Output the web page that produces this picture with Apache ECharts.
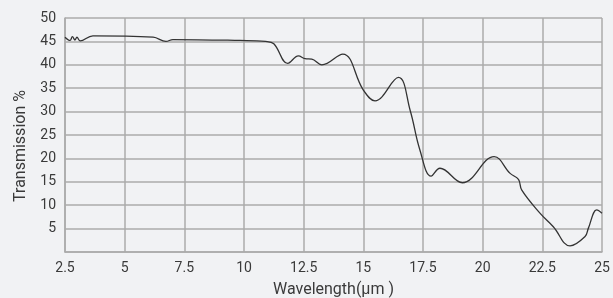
<!DOCTYPE html>
<html>
<head>
<meta charset="utf-8">
<script src="https://cdn.jsdelivr.net/npm/echarts@6/dist/echarts.min.js"></script>
<style>
  html, body { margin: 0; padding: 0; background: #f1f2f4; }
  #chart { width: 613px; height: 298px; }
</style>
</head>
<body>
<div id="chart"></div>
<script>
// wavelength (um) and transmission (%)
const wavelength = [2.5, 2.71, 2.81, 2.92, 3.0, 3.13, 3.67, 6.19, 6.73, 7.02, 9.83, 10.9, 11.25, 11.83, 12.28, 12.56, 12.84, 13.26, 14.14, 15.0, 15.49, 16.47, 16.96, 17.37, 17.84, 18.21, 19.15, 20.48, 21.15, 21.5, 21.64, 22.4, 22.96, 23.66, 24.29, 24.43, 24.78, 25.0]
const transmission = [45.9, 45.2, 46.0, 45.3, 45.9, 45.1, 46.2, 45.9, 45.0, 45.4, 45.2, 45.0, 44.5, 40.3, 41.9, 41.3, 41.2, 40.0, 42.3, 34.6, 32.3, 37.3, 30.3, 21.8, 16.2, 17.9, 14.8, 20.4, 16.8, 15.5, 13.2, 8.3, 5.4, 1.3, 3.3, 5.1, 9.0, 8.3]

const chart = echarts.init(document.getElementById('chart'))

const gridColor = '#ababab'
const textColor = '#3a3a3a'
const font = 'Roboto'

chart.setOption({
  backgroundColor: '#f1f2f4',
  animation: false,
  grid: { left: 65, right: 11, top: 18, bottom: 46, outerBoundsMode: 'none', containLabel: false },
  xAxis: {
    type: 'value',
    min: 2.5,
    max: 25,
    interval: 2.5,
    name: 'Wavelength(μm )',
    nameLocation: 'middle',
    nameGap: 30,
    nameTextStyle: { fontSize: 16, color: textColor, fontFamily: font },
    axisLine: { show: true, lineStyle: { color: gridColor, width: 1.5 } },
    axisTick: { show: false },
    axisLabel: { fontSize: 14, color: textColor, fontFamily: font, margin: 9 },
    splitLine: { show: true, lineStyle: { color: gridColor, width: 1.5 } }
  },
  yAxis: {
    type: 'value',
    min: 0,
    max: 50,
    interval: 5,
    name: 'Transmission %',
    nameLocation: 'middle',
    nameGap: 30,
    nameTextStyle: { fontSize: 16, color: textColor, fontFamily: font, padding: [0, 22, 0, 0] },
    axisLine: { show: true, lineStyle: { color: gridColor, width: 1.5 } },
    axisTick: { show: false },
    axisLabel: {
      fontSize: 14, color: textColor, fontFamily: font, margin: 9,
      formatter: v => v === 0 ? '' : v
    },
    splitLine: { show: true, lineStyle: { color: gridColor, width: 1.5 } }
  },
  series: [{
    type: 'line',
    data: wavelength.map((w, i) => [w, transmission[i]]),
    smooth: 0.4,
    showSymbol: false,
    lineStyle: { color: '#333', width: 1.3 }
  }]
})
</script>
</body>
</html>
